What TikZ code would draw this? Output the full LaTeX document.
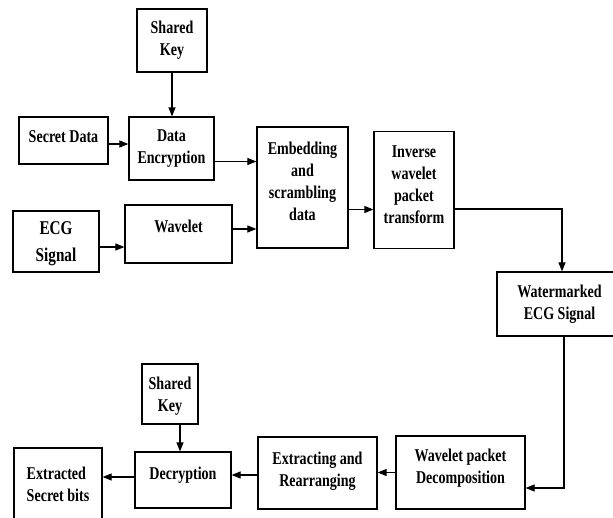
\documentclass[tikz,border=0pt]{standalone}
\usepackage{fontspec}
\setmainfont{Liberation Serif}[FakeStretch=0.78]
\usetikzlibrary{arrows.meta}

\begin{document}
\begin{tikzpicture}[x=1pt, y=-1pt,
    main/.style = {draw, line width=1.2pt, align=center,
      font=\fontsize{18}{22}\selectfont\bfseries},
    link/.style = {line width=1.1pt, -{Triangle[length=9pt,width=7pt]}}]
    \useasboundingbox (0,0) rectangle (613,517);
    \node[main, minimum width=70, minimum height=63] (1) at (172,40.5) {Shared\\Key};
    \node[main, minimum width=89, minimum height=47, text height=12, text depth=9] (2) at (63.5,140.5) {Secret Data};
    \node[main, minimum width=85, minimum height=63] (3) at (171.5,148.5) {Data\\Encryption};
    \node[main, minimum width=86, minimum height=61, text depth=-4, font=\fontsize{19.5}{27}\selectfont\bfseries] (4) at (56,241.5) {ECG\\Signal};
    \node[main, minimum width=107, minimum height=58, text height=12, text depth=16] (5) at (178.5,234) {Wavelet};
    \node[main, minimum width=91, minimum height=121, text depth=13] (6) at (302.5,187.5) {Embedding\\and\\scrambling\\data};
    \node[main, minimum width=80, minimum height=117, text depth=10] (7) at (414,190) {Inverse\\wavelet\\packet\\transform};
    \node[main, minimum width=125, minimum height=64] (8) at (559.5,304) {Watermarked\\ECG Signal};
    \node[main, minimum width=129, minimum height=73, text depth=13] (9) at (460.5,472.5) {Wavelet packet\\Decomposition};
    \node[main, minimum width=119, minimum height=72, text depth=8] (10) at (317.5,473) {Extracting and\\Rearranging};
    \node[main, minimum width=96, minimum height=56, text height=13, text depth=15] (11) at (183,480) {Decryption};
    \node[main, minimum width=56, minimum height=60, text depth=-2] (12) at (170,394) {Shared\\Key};
    \node[main, minimum width=88, minimum height=72, align=left] (13) at (58,484) {Extracted\\Secret bits};
    \draw[link] (1.south) -- (1.south |- 3.north);
    \draw[link] ([yshift=-3.5]2.east) -- ([yshift=-3.5]2.east -| 3.west);
    \draw[link] ([yshift=-13]3.east) -- ([yshift=-13]3.east -| 6.west);
    \draw[link] ([yshift=-5.5]4.east) -- ([yshift=-5.5]4.east -| 5.west);
    \draw[link] ([yshift=5]5.east) -- ([yshift=5]5.east -| 6.west);
    \draw[link] ([yshift=-22]6.east) -- ([yshift=-22]6.east -| 7.west);
    \draw[link] ([yshift=-19]7.east) -| ([xshift=2.5]8.north);
    \draw[link] ([xshift=4.5]8.south) |- ([yshift=-15.5]9.east);
    \draw[link] (9.west) -- (9.west -| 10.east);
    \draw[link] ([yshift=-2]10.west) -- ([yshift=-2]10.west -| 11.east);
    \draw[link] ([xshift=10]12.south) -- ([xshift=10]12.south |- 11.north);
    \draw[link] ([yshift=3]11.west) -- ([yshift=3]11.west -| 13.east);
\end{tikzpicture}
\end{document}
